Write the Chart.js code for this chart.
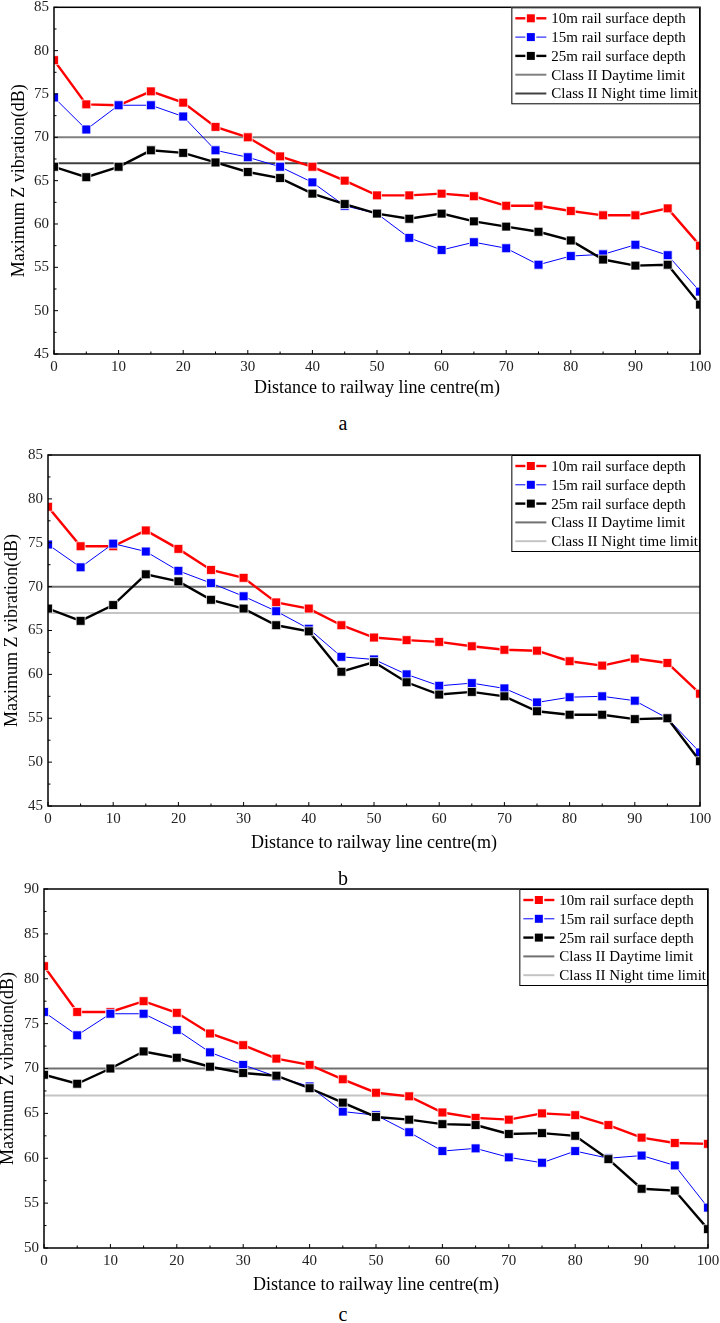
<!DOCTYPE html>
<html>
<head>
<meta charset="utf-8">
<script src="https://cdn.jsdelivr.net/npm/chart.js@4.4.1/dist/chart.umd.min.js"></script>
<style>
  body { margin: 0; background: #fff; width: 720px; height: 1323px; position: relative; overflow: hidden; }
  canvas { position: absolute; left: 0; }
  .cap { position: absolute; left: 293px; width: 100px; text-align: center; font: 20px/20px "Liberation Serif", serif; color: #000; }
</style>
</head>
<body>
<canvas id="chartA"></canvas>
<canvas id="chartB"></canvas>
<canvas id="chartC"></canvas>
<div class="cap" style="top:413px">a</div>
<div class="cap" style="top:868px">b</div>
<div class="cap" style="top:1304px">c</div>
<script>
const distance = [0, 5, 10, 15, 20, 25, 30, 35, 40, 45, 50, 55, 60, 65, 70, 75, 80, 85, 90, 95, 100];
const xTicks = [0, 10, 20, 30, 40, 50, 60, 70, 80, 90, 100];
const yTicksAB = [45, 50, 55, 60, 65, 70, 75, 80, 85];
const yTicksC = [50, 55, 60, 65, 70, 75, 80, 85, 90];

const seriesNames = ['10m rail surface depth', '15m rail surface depth', '25m rail surface depth'];
const limitNames = ['Class II Daytime limit', 'Class II Night time limit'];
const dayLimit = 70;
const nightLimit = 67;

// panel a
const depth10A = [78.9, 73.8, 73.7, 75.3, 74.0, 71.2, 70.0, 67.8, 66.6, 65.0, 63.3, 63.3, 63.5, 63.2, 62.1, 62.1, 61.5, 61.0, 61.0, 61.8, 57.5];
const depth15A = [74.6, 70.9, 73.7, 73.7, 72.4, 68.5, 67.7, 66.6, 64.8, 62.1, 61.2, 58.4, 57.0, 57.9, 57.2, 55.3, 56.3, 56.5, 57.6, 56.4, 52.2];
const depth25A = [66.6, 65.4, 66.6, 68.5, 68.2, 67.1, 66.0, 65.3, 63.5, 62.3, 61.2, 60.6, 61.2, 60.3, 59.7, 59.1, 58.1, 55.9, 55.2, 55.3, 50.7];

// panel b
const depth10B = [79.1, 74.6, 74.6, 76.4, 74.3, 71.9, 71.0, 68.2, 67.5, 65.6, 64.2, 63.9, 63.7, 63.2, 62.8, 62.7, 61.5, 61.0, 61.8, 61.3, 57.8];
const depth15B = [74.8, 72.2, 74.9, 74.0, 71.8, 70.4, 68.9, 67.2, 65.2, 62.0, 61.7, 60.0, 58.7, 59.0, 58.4, 56.8, 57.4, 57.5, 57.0, 55.0, 51.1];
const depth25B = [67.5, 66.1, 67.9, 71.4, 70.6, 68.5, 67.5, 65.6, 64.9, 60.3, 61.4, 59.1, 57.7, 58.0, 57.5, 55.8, 55.4, 55.4, 54.9, 55.0, 50.1];

// panel c
const depth10C = [81.4, 76.3, 76.3, 77.5, 76.2, 73.9, 72.6, 71.1, 70.4, 68.8, 67.3, 66.9, 65.1, 64.5, 64.3, 65.0, 64.8, 63.7, 62.3, 61.7, 61.6];
const depth15C = [76.3, 73.7, 76.1, 76.1, 74.3, 71.8, 70.4, 69.1, 68.0, 65.2, 64.8, 62.9, 60.8, 61.1, 60.1, 59.5, 60.8, 60.0, 60.3, 59.2, 54.5];
const depth25C = [69.3, 68.3, 70.0, 71.9, 71.2, 70.2, 69.5, 69.2, 67.8, 66.2, 64.6, 64.3, 63.8, 63.7, 62.7, 62.8, 62.5, 59.9, 56.6, 56.4, 52.1];

Chart.defaults.font.family = '"Liberation Serif", "Times New Roman", serif';

function seriesSet(label, values, color, width, order) {
  return {
    label: label,
    data: distance.map((d, i) => ({ x: d, y: values[i] })),
    borderColor: color,
    backgroundColor: color,
    borderWidth: width,
    pointStyle: 'rect',
    pointRadius: 6.3,
    pointBackgroundColor: color,
    pointBorderColor: 'rgba(255,255,255,0.75)',
    pointBorderWidth: 1,
    tension: 0,
    clip: 0,
    order: order
  };
}

function limitSet(label, value, color, order) {
  return {
    label: label,
    data: [{ x: distance[0], y: value }, { x: distance[distance.length - 1], y: value }],
    borderColor: color,
    backgroundColor: color,
    borderWidth: 2,
    pointRadius: 0,
    clip: 0,
    order: order
  };
}

// frame, inward ticks and the boxed legend
const framePlugin = {
  id: 'frame',
  afterDatasetsDraw(chart) {
    const { ctx, chartArea: a, scales: { x, y } } = chart;
    ctx.save();
    ctx.strokeStyle = '#000';
    ctx.lineWidth = 1.5;
    ctx.strokeRect(a.left, a.top, a.right - a.left, a.bottom - a.top);
    ctx.lineWidth = 1;
    ctx.beginPath();
    for (let v = x.min; v <= x.max; v += 5) {
      const px = x.getPixelForValue(v);
      ctx.moveTo(px, a.bottom);
      ctx.lineTo(px, a.bottom - (v % 10 === 0 ? 4 : 2.5));
    }
    for (let v = y.min; v <= y.max; v += 2.5) {
      const py = y.getPixelForValue(v);
      ctx.moveTo(a.left, py);
      ctx.lineTo(a.left + (v % 5 === 0 ? 4 : 2.5), py);
    }
    ctx.stroke();
    ctx.restore();
  },
  afterDraw(chart) {
    const { ctx, chartArea: a } = chart;
    const sets = chart.data.datasets;
    ctx.save();
    ctx.font = '15px "Liberation Serif"';
    const textW = Math.max(...sets.map(d => ctx.measureText(d.label).width));
    const w = textW + 42;
    const h = sets.length * 18.8 + 3;
    const left = a.right - w;
    const top = a.top;
    ctx.fillStyle = '#fff';
    ctx.fillRect(left, top, w, h);
    ctx.strokeStyle = '#000';
    ctx.lineWidth = 1;
    ctx.strokeRect(left + 0.5, top + 0.5, w - 1, h - 1);
    sets.forEach((d, i) => {
      const cy = top + 11 + i * 18.8;
      ctx.strokeStyle = d.borderColor;
      ctx.lineWidth = d.borderWidth;
      ctx.beginPath();
      ctx.moveTo(left + 4, cy);
      ctx.lineTo(left + 35, cy);
      ctx.stroke();
      if (d.pointRadius) {
        ctx.fillStyle = '#fff';
        ctx.fillRect(left + 14, cy - 5.5, 11, 11);
        ctx.fillStyle = d.borderColor;
        ctx.fillRect(left + 15.5, cy - 4, 8, 8);
      }
      ctx.fillStyle = '#000';
      ctx.textBaseline = 'middle';
      ctx.fillText(d.label, left + 40, cy + 1);
    });
    ctx.restore();
  }
};

function makeChart(id, box, yTicks, vals, dayColor, nightColor) {
  const canvas = document.getElementById(id);
  const bottomEdge = box.xTitleY + 15;
  canvas.width = 720;
  canvas.height = bottomEdge - box.canvasTop;
  canvas.style.top = box.canvasTop + 'px';

  return new Chart(canvas, {
    type: 'line',
    data: {
      datasets: [
        seriesSet(seriesNames[0], vals[0], '#ff0000', 2.4, 2),
        seriesSet(seriesNames[1], vals[1], '#0000ff', 1, 1),
        seriesSet(seriesNames[2], vals[2], '#000000', 2.4, 0),
        limitSet(limitNames[0], dayLimit, dayColor, 3),
        limitSet(limitNames[1], nightLimit, nightColor, 4)
      ]
    },
    options: {
      responsive: false,
      animation: false,
      events: [],
      layout: { padding: { top: box.top - box.canvasTop, right: 720 - box.right, left: 0, bottom: 0 } },
      plugins: { legend: { display: false }, tooltip: { enabled: false } },
      scales: {
        x: {
          type: 'linear',
          min: xTicks[0],
          max: xTicks[xTicks.length - 1],
          grid: { display: false, drawTicks: false },
          border: { display: false },
          ticks: { padding: 4, color: '#222', font: { size: 15 }, maxRotation: 0, autoSkip: false },
          afterBuildTicks: s => { s.ticks = xTicks.map(v => ({ value: v })); },
          title: { display: true, text: 'Distance to railway line centre(m)', color: '#000', font: { size: 18 }, padding: { top: 0, bottom: 4.2 } },
          afterFit: s => { s.height = bottomEdge - box.bottom; s.paddingLeft = 0; s.paddingRight = 0; }
        },
        y: {
          min: yTicks[0],
          max: yTicks[yTicks.length - 1],
          grid: { display: false, drawTicks: false },
          border: { display: false },
          ticks: { padding: 5, color: '#222', font: { size: 15 } },
          afterBuildTicks: s => { s.ticks = yTicks.map(v => ({ value: v })); },
          title: { display: true, text: 'Maximum Z vibration(dB)', color: '#000', font: { size: 18 }, padding: { top: box.yTitleX - 10.8, bottom: 0 } },
          afterFit: s => { s.width = box.left; s.paddingTop = 0; s.paddingBottom = 0; }
        }
      }
    },
    plugins: [framePlugin]
  });
}

makeChart('chartA', { canvasTop: 0, top: 4, bottom: 354, left: 54, right: 700, xTitleY: 388, yTitleX: 19.5 },
  yTicksAB, [depth10A, depth15A, depth25A], '#808080', '#404040');
makeChart('chartB', { canvasTop: 445, top: 455, bottom: 806, left: 48, right: 700, xTitleY: 843, yTitleX: 12 },
  yTicksAB, [depth10B, depth15B, depth25B], '#707070', '#c4c4c4');
makeChart('chartC', { canvasTop: 879, top: 889, bottom: 1248, left: 44, right: 708, xTitleY: 1285, yTitleX: 8 },
  yTicksC, [depth10C, depth15C, depth25C], '#707070', '#c4c4c4');
</script>
</body>
</html>
